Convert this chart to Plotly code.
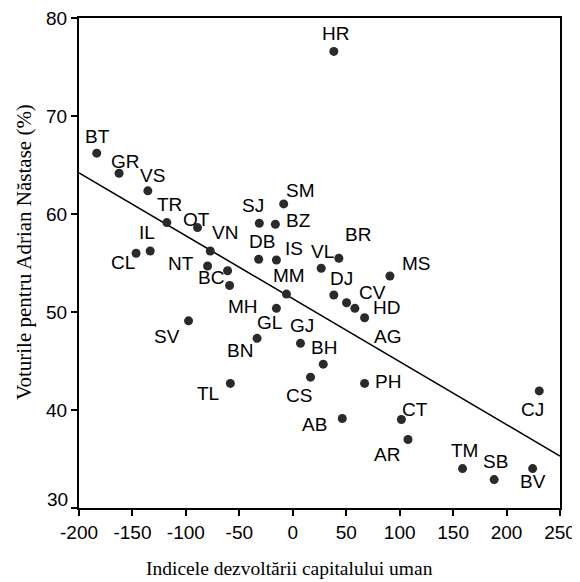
import plotly.graph_objects as go

# ---- data ----
counties = ["HR", "BT", "GR", "VS", "TR", "OT", "VN", "IL", "CL", "NT",
            "BC", "SJ", "BZ", "SM", "DB", "IS", "VL", "BR", "MS", "MM",
            "DJ", "CV", "HD", "AG", "MH", "GL", "BN", "SV", "GJ", "BH",
            "CS", "PH", "AB", "CT", "AR", "TM", "SB", "BV", "CJ", "TL"]
hdi = [38.4, -183.4, -162.5, -135.6, -117.8, -89.1, -77.2, -133.4, -146.6, -79.7,
       -61.0, -31.3, -16.3, -8.5, -31.9, -15.3, 26.6, 43.1, 90.9, -5.9,
       38.4, 50.3, 58.1, 67.2, -59.1, -15.3, -33.4, -97.5, 7.2, 28.5,
       16.6, 67.2, 46.3, 101.6, 107.8, 158.8, 188.4, 224.4, 230.6, -58.4]
votes = [76.59, 66.21, 64.16, 62.36, 59.12, 58.61, 56.23, 56.23, 55.99, 54.69,
         54.21, 59.06, 58.95, 61.03, 55.38, 55.31, 54.46, 55.48, 53.67, 51.83,
         51.73, 50.94, 50.37, 49.41, 52.70, 50.37, 47.31, 49.10, 46.80, 44.68,
         43.35, 42.71, 39.13, 39.03, 36.99, 34.02, 32.90, 34.02, 41.95, 42.71]

# regression line end points
line_x = [-200, 250]
line_y = [64.2, 35.3]

x_ticks = [-200, -150, -100, -50, 0, 50, 100, 150, 200, 250]
y_ticks = [30, 40, 50, 60, 70, 80]

# label placement (pixel offsets of each label from its point)
label_offset = {
    "HR": (2, -18), "BT": (1, -17), "GR": (6, -12), "VS": (5, -15), "TR": (3, -18),
    "OT": (-1, -8), "VN": (15, -18), "IL": (-3, -18), "CL": (-13, 9), "NT": (-27, -3),
    "BC": (-17, 7), "SJ": (-6, -18), "BZ": (23, -4), "SM": (17, -13), "DB": (3, -18),
    "IS": (18, -11), "VL": (1, -17), "BR": (19, -24), "MS": (27, -13), "MM": (3, -19),
    "DJ": (8, -17), "CV": (26, -10), "HD": (32, -1), "AG": (23, 19), "MH": (13, 21),
    "GL": (-7, 14), "BN": (-17, 12), "SV": (-22, 16), "GJ": (2, -18), "BH": (1, -17),
    "CS": (-12, 18), "PH": (23, -2), "AB": (-28, 6), "CT": (14, -10), "AR": (-21, 15),
    "TM": (2, -18), "SB": (1, -18), "BV": (0, 13), "CJ": (-7, 19), "TL": (-22, 10),
}

SANS = "Liberation Sans, Arial, Helvetica, sans-serif"
SERIF = "Liberation Serif, Times New Roman, serif"

fig = go.Figure()

fig.add_trace(go.Scatter(
    x=line_x, y=line_y, mode="lines",
    line=dict(color="black", width=1.6),
    hoverinfo="skip", showlegend=False,
))

fig.add_trace(go.Scatter(
    x=hdi, y=votes, mode="markers", text=counties,
    marker=dict(size=9, color="#2a2a2a", line=dict(width=0)),
    showlegend=False,
))

annotations = []
for name, xv, yv in zip(counties, hdi, votes):
    dx, dy = label_offset[name]
    annotations.append(dict(
        x=xv, y=yv, xref="x", yref="y", text=name, showarrow=False,
        xanchor="center", yanchor="middle", xshift=dx, yshift=-dy,
        font=dict(family=SANS, size=19, color="black"),
    ))

# the lowest y tick label sits a little above its tick in the reference
annotations.append(dict(
    x=0, y=y_ticks[0], xref="paper", yref="y", xshift=-9, yshift=9,
    text=str(y_ticks[0]), showarrow=False, xanchor="right", yanchor="middle",
    font=dict(family=SANS, size=19, color="black"),
))

# axis titles
annotations.append(dict(
    x=0.4366, y=0, xref="paper", yref="paper", yshift=-60,
    text="Indicele dezvoltării capitalului uman", showarrow=False,
    xanchor="center", yanchor="middle",
    font=dict(family=SERIF, size=19.5, color="black"),
))
annotations.append(dict(
    x=0, y=0.5, xref="paper", yref="paper", xshift=-55, yshift=11,
    text="Voturile pentru Adrian Năstase (%)", showarrow=False, textangle=-90,
    xanchor="center", yanchor="middle",
    font=dict(family=SERIF, size=21, color="black"),
))

y_ticktext = [""] + [str(v) for v in y_ticks[1:]]

# the page body adds an 8px offset, so the figure is sized to fit inside the window
fig.update_layout(
    width=572, height=574,
    margin=dict(l=71, r=20, t=10, b=74, autoexpand=False),
    paper_bgcolor="white", plot_bgcolor="white",
    annotations=annotations,
    xaxis=dict(
        range=[-200, 250], tickvals=x_ticks, ticktext=[str(v) for v in x_ticks],
        showgrid=False, zeroline=False, automargin=False, ticklabeloverflow="allow",
        showline=True, linecolor="black", linewidth=2, mirror=True,
        ticks="outside", ticklen=6, tickwidth=1.5, tickcolor="black",
        tickfont=dict(family=SANS, size=19, color="black"),
    ),
    yaxis=dict(
        range=[30, 80], tickvals=y_ticks, ticktext=y_ticktext,
        showgrid=False, zeroline=False, automargin=False, ticklabeloverflow="allow",
        showline=True, linecolor="black", linewidth=2, mirror=True,
        ticks="outside", ticklen=6, tickwidth=1.5, tickcolor="black",
        tickfont=dict(family=SANS, size=19, color="black"),
    ),
)

fig.write_html("out.html")
